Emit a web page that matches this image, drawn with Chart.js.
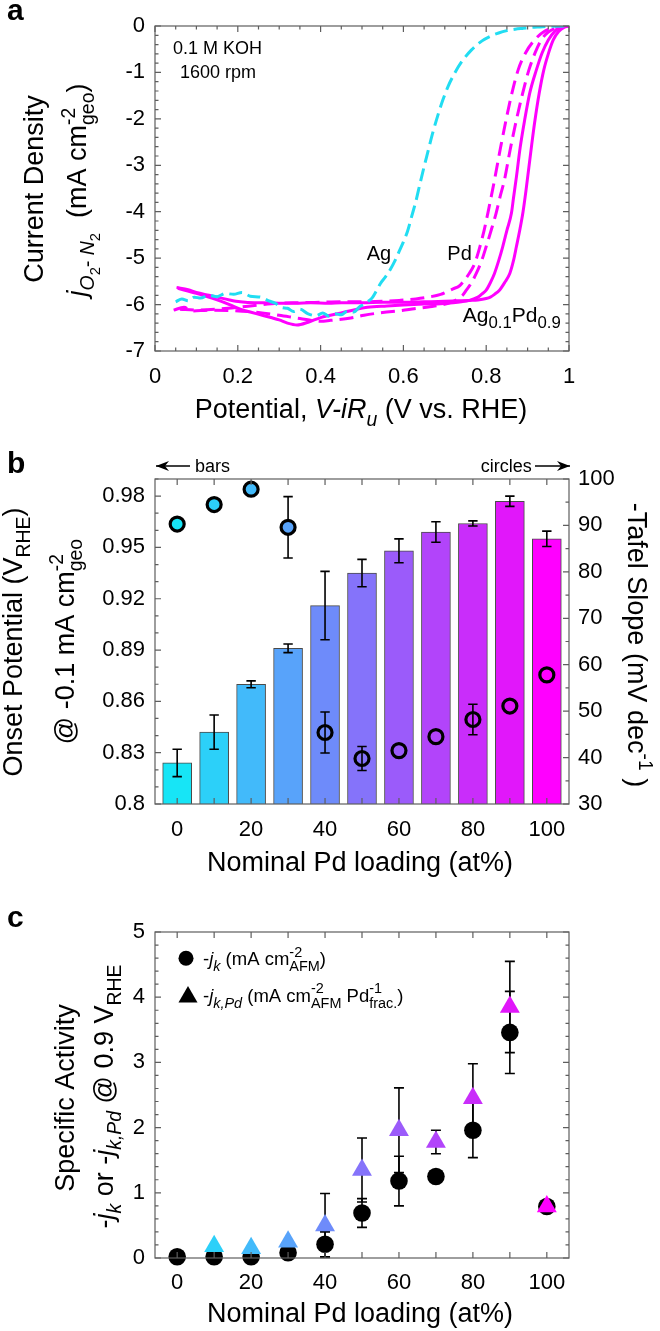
<!DOCTYPE html>
<html>
<head>
<meta charset="utf-8">
<script src="https://cdn.jsdelivr.net/npm/chart.js@4.4.1/dist/chart.umd.min.js"></script>
<style>
  html, body { margin: 0; padding: 0; background: #fff; }
  #wrap { position: relative; width: 660px; height: 1331px; }
  canvas { position: absolute; left: 0; }
</style>
</head>
<body>
<div id="wrap">
  <canvas id="cA" width="660" height="440" style="top:0"></canvas>
  <canvas id="cB" width="660" height="450" style="top:440px"></canvas>
  <canvas id="cC" width="660" height="441" style="top:890px"></canvas>
</div>
<script>
// ════════════════════════════════════════
// DATA
// ════════════════════════════════════════

// panel a: ORR polarisation curves (V vs RHE, mA cm-2)
const agV = [0.05,0.065,0.08,0.095,0.11,0.13,0.15,0.17,0.19,0.21,0.23,0.255,0.275,0.29,0.305,0.32,0.335,0.35,0.37,0.39,0.405,0.42,0.435,0.45,0.465,0.48,0.495,0.505,0.515,0.525,0.535,0.545,0.557,0.57,0.58,0.59,0.60,0.61,0.62,0.63,0.64,0.65,0.66,0.67,0.683,0.695,0.708,0.723,0.74,0.764,0.79,0.81,0.83,0.85,0.87,0.89,0.91,0.93,0.95,0.97,1.0];
const agJ = [-5.94,-5.88,-5.92,-5.84,-5.86,-5.80,-5.83,-5.76,-5.78,-5.74,-5.82,-5.84,-5.92,-5.97,-6.06,-6.08,-6.15,-6.10,-6.20,-6.24,-6.18,-6.25,-6.20,-6.22,-6.14,-6.16,-6.04,-6.00,-5.93,-5.85,-5.70,-5.54,-5.40,-5.22,-5.05,-4.85,-4.65,-4.42,-4.10,-3.78,-3.40,-3.03,-2.68,-2.33,-1.93,-1.60,-1.30,-1.03,-0.78,-0.52,-0.32,-0.22,-0.15,-0.10,-0.07,-0.05,-0.03,-0.02,-0.01,-0.005,0];

const pdV1 = [0.06,0.10,0.15,0.20,0.25,0.30,0.35,0.40,0.45,0.50,0.55,0.59,0.63,0.66,0.69,0.72,0.735,0.747,0.759,0.772,0.784,0.795,0.804,0.812,0.820,0.834,0.848,0.862,0.877,0.895,0.917,0.94,0.965,1.0];
const pdJ1 = [-6.10,-6.12,-6.10,-6.06,-6.01,-5.97,-5.96,-5.95,-5.94,-5.94,-5.93,-5.91,-5.88,-5.84,-5.78,-5.66,-5.60,-5.48,-5.33,-5.12,-4.78,-4.40,-4.03,-3.68,-3.32,-2.65,-2.02,-1.45,-0.95,-0.58,-0.30,-0.12,-0.04,0];

const pdV2 = [0.045,0.07,0.09,0.13,0.19,0.25,0.30,0.35,0.40,0.424,0.473,0.505,0.55,0.594,0.626,0.66,0.691,0.715,0.731,0.743,0.752,0.765,0.776,0.788,0.80,0.812,0.824,0.834,0.844,0.858,0.873,0.888,0.903,0.918,0.933,0.95,0.97,1.0];
const pdJ2 = [-6.12,-6.06,-6.14,-6.12,-6.13,-6.17,-6.23,-6.30,-6.36,-6.34,-6.29,-6.23,-6.17,-6.13,-6.09,-6.05,-6.01,-5.95,-5.88,-5.80,-5.69,-5.52,-5.33,-5.08,-4.75,-4.40,-4.03,-3.66,-3.32,-2.66,-2.02,-1.45,-0.95,-0.58,-0.30,-0.13,-0.04,0];

const alloyV1 = [0.055,0.10,0.15,0.18,0.206,0.23,0.255,0.28,0.30,0.32,0.343,0.37,0.40,0.45,0.513,0.56,0.60,0.65,0.69,0.72,0.74,0.759,0.78,0.79,0.80,0.81,0.82,0.83,0.84,0.85,0.861,0.866,0.873,0.882,0.893,0.905,0.921,0.935,0.95,0.965,0.98,1.0];
const alloyJ1 = [-5.65,-5.76,-5.90,-6.00,-6.10,-6.16,-6.22,-6.28,-6.33,-6.40,-6.44,-6.38,-6.28,-6.18,-6.06,-6.03,-6.01,-5.99,-5.98,-5.96,-5.94,-5.91,-5.84,-5.77,-5.69,-5.53,-5.33,-5.06,-4.75,-4.40,-4.03,-3.70,-3.25,-2.62,-2.02,-1.45,-0.95,-0.58,-0.30,-0.12,-0.03,0];

const alloyV2 = [0.052,0.08,0.10,0.13,0.15,0.18,0.206,0.24,0.26,0.30,0.34,0.376,0.42,0.45,0.50,0.55,0.60,0.65,0.70,0.73,0.76,0.78,0.80,0.81,0.82,0.832,0.845,0.857,0.866,0.873,0.881,0.889,0.896,0.903,0.910,0.917,0.928,0.939,0.950,0.962,0.975,0.988,1.0];
const alloyJ2 = [-5.63,-5.68,-5.74,-5.80,-5.84,-5.90,-5.94,-5.96,-5.96,-5.97,-5.97,-5.96,-5.97,-5.96,-5.96,-5.95,-5.95,-5.94,-5.93,-5.92,-5.91,-5.90,-5.87,-5.84,-5.78,-5.69,-5.52,-5.33,-5.05,-4.75,-4.40,-4.00,-3.55,-3.05,-2.55,-2.08,-1.45,-0.95,-0.60,-0.30,-0.12,-0.03,0];

// panel b: onset potential (bars, left) and Tafel slope (circles, right)
const loading = [0,10,20,30,40,50,60,70,80,90,100];
const onset = [0.824,0.842,0.870,0.891,0.916,0.935,0.948,0.959,0.964,0.977,0.955];
const onsetErr = [0.008,0.010,0.002,0.0025,0.020,0.008,0.007,0.006,0.0015,0.003,0.0045];
const tafel = [90.3,94.5,97.8,89.6,45.4,39.8,41.5,44.5,48.2,51.1,57.8];
const tafelErr = [0,0,0,6.6,4.4,2.6,0,0,3.3,0,0];

// panel c: specific activity
const jk = [0.02,0.02,0.02,0.08,0.21,0.69,1.18,1.25,1.96,3.46,0.79];
const jkErr = [0,0,0,0,0.19,0.22,0.38,0,0.42,0.63,0];
const pdLoading = [10,20,30,40,50,60,70,80,90,100];
const jkPd = [0.18,0.15,0.25,0.50,1.35,1.96,1.78,2.45,3.85,0.79];
const jkPdErr = [0,0,0,0.49,0.49,0.65,0.18,0.53,0.70,0];

// tick values
const potTicks = [0,0.2,0.4,0.6,0.8,1];
const jTicks = [-7,-6,-5,-4,-3,-2,-1,0];
const loadTicks = [0,10,20,30,40,50,60,70,80,90,100];
const onsetTicks = [0.8,0.83,0.86,0.89,0.92,0.95,0.98];
const tafelTicks = [30,40,50,60,70,80,90,100];
const actTicks = [0,1,2,3,4,5];

// ════════════════════════════════════════
// STYLE
// ════════════════════════════════════════

const FONT = "'Liberation Sans', Arial, Helvetica, sans-serif";
const PALETTE = ['#17E5F6','#2CD0F9','#42BAFA','#58A3FA','#6E8BFA','#8573FA','#9B5BFA','#B244FA','#C92DFA','#E117FA','#FF00FF'];
const MAG = '#FF00FF';
const CYAN = '#21DDF2';
const AXIS = '#5e5e5e';
const TICK_FONT = { family: FONT, size: 22 };
const TITLE = 27;

Chart.defaults.font.family = FONT;
Chart.defaults.color = '#000';

const SUB = { s: 0.72, dy: 0.3 };
const SUP = { s: 0.72, dy: -0.42 };
const SUBSUB = { s: 0.55, dy: 0.5 };
const LSUB = { s: 0.78, dy: 0.32 };
const LSUP = { s: 0.78, dy: -0.45 };

// ════════════════════════════════════════
// PLUGINS
// ════════════════════════════════════════

function drawRich(ctx, item) {
    const base = item.size;
    ctx.save();
    ctx.translate(item.x, item.y);
    if (item.rot) ctx.rotate(item.rot);
    ctx.fillStyle = '#000';
    ctx.textBaseline = 'alphabetic';
    ctx.textAlign = 'left';
    let cx = 0, prevStart = 0;
    const placed = item.runs.map(r => {
        const s = base * (r.s || 1);
        const font = `${r.i ? 'italic ' : ''}${item.bold ? 'bold ' : ''}${s}px ${FONT}`;
        ctx.font = font;
        const w = ctx.measureText(r.t).width;
        const x0 = r.back ? prevStart : cx;
        prevStart = x0;
        cx = r.back ? Math.max(cx, x0 + w) : x0 + w;
        return { font, t: r.t, x: x0, y: (r.dy || 0) * base };
    });
    const off = item.align === 'center' ? -cx / 2 : item.align === 'right' ? -cx : 0;
    placed.forEach(p => { ctx.font = p.font; ctx.fillText(p.t, p.x + off, p.y); });
    ctx.restore();
}

const textPlugin = {
    id: 'texts',
    afterDraw(chart, args, opts) {
        (opts.items || []).forEach(it => drawRich(chart.ctx, it));
        if (opts.extra) opts.extra(chart.ctx);
    }
};

// box + inward ticks on all four sides, MATLAB style
const framePlugin = {
    id: 'frame',
    afterDraw(chart, args, opts) {
        const { ctx, chartArea: a } = chart;
        const sx = chart.scales.x, sy = chart.scales.y, sy2 = chart.scales.y2;
        const MAJ = 6, MIN = 3.5;
        const minors = (scale, step) => {
            const out = [];
            if (!step) return out;
            for (let k = Math.ceil(scale.min / step - 1e-9); k * step <= scale.max + 1e-9; k++) out.push(k * step);
            return out;
        };
        ctx.save();
        ctx.strokeStyle = AXIS;
        ctx.lineWidth = 1.2;
        ctx.beginPath();
        const hx = (scale, vals, len) => vals.forEach(v => {
            const p = scale.getPixelForValue(v);
            ctx.moveTo(p, a.bottom); ctx.lineTo(p, a.bottom - len);
            ctx.moveTo(p, a.top); ctx.lineTo(p, a.top + len);
        });
        const vy = (scale, vals, len, left, right) => vals.forEach(v => {
            const p = scale.getPixelForValue(v);
            if (left) { ctx.moveTo(a.left, p); ctx.lineTo(a.left + len, p); }
            if (right) { ctx.moveTo(a.right, p); ctx.lineTo(a.right - len, p); }
        });
        hx(sx, sx.ticks.map(t => t.value), MAJ);
        hx(sx, minors(sx, opts.minorX), MIN);
        vy(sy, sy.ticks.map(t => t.value), MAJ, true, !sy2);
        vy(sy, minors(sy, opts.minorY), MIN, true, !sy2);
        if (sy2) {
            vy(sy2, sy2.ticks.map(t => t.value), MAJ, false, true);
            vy(sy2, minors(sy2, opts.minorY2), MIN, false, true);
        }
        ctx.stroke();
        ctx.strokeRect(a.left, a.top, a.right - a.left, a.bottom - a.top);
        ctx.restore();
    }
};

function drawErrors(chart, index, after) {
    const ds = chart.data.datasets[index];
    if (!ds.errorBars || !!ds.errAfter !== after) return;
    const meta = chart.getDatasetMeta(index);
    const ys = chart.scales[meta.yAxisID];
    const ctx = chart.ctx;
    const c = ds.capHalf || 5;
    ctx.save();
    ctx.strokeStyle = '#000';
    ctx.lineWidth = 1.6;
    ctx.beginPath();
    meta.data.forEach((el, k) => {
        const e = ds.errorBars[k];
        if (!e) return;
        const v = ds.data[k].y;
        const x = el.x, y1 = ys.getPixelForValue(v + e), y2 = ys.getPixelForValue(v - e);
        ctx.moveTo(x, y1); ctx.lineTo(x, y2);
        ctx.moveTo(x - c, y1); ctx.lineTo(x + c, y1);
        ctx.moveTo(x - c, y2); ctx.lineTo(x + c, y2);
    });
    ctx.stroke();
    ctx.restore();
}

const errorBarPlugin = {
    id: 'errbars',
    beforeDatasetDraw(chart, args) { drawErrors(chart, args.index, false); },
    afterDatasetDraw(chart, args) { drawErrors(chart, args.index, true); }
};

// shared axis pieces
function axis(min, max, values, fmt, fit) {
    return {
        type: 'linear', min, max, offset: false,
        afterBuildTicks: s => { s.ticks = values.map(v => ({ value: v })); },
        afterFit: fit,
        grid: { display: false, drawTicks: false },
        border: { display: false },
        ticks: { font: TICK_FONT, color: '#000', autoSkip: false, maxRotation: 0, padding: 10, callback: fmt },
    };
}

const pts = (xs, ys) => xs.map((x, i) => ({ x, y: ys[i] }));

function curve(xs, ys, color, dash) {
    return {
        data: pts(xs, ys),
        borderColor: color,
        borderWidth: 3,
        borderDash: dash,
        pointRadius: 0,
        cubicInterpolationMode: 'monotone',
        fill: false,
    };
}

const BASE_OPTS = {
    responsive: false,
    animation: false,
    events: [],
};

// ════════════════════════════════════════
// PANEL A
// ════════════════════════════════════════

const xA = axis(0, 1, potTicks, v => String(v), s => { s.height = 89; });
xA.ticks.padding = 12.5;
const yA = axis(-7, 0, jTicks, v => String(v), s => { s.width = 155; });

new Chart(document.getElementById('cA'), {
    type: 'line',
    data: {
        datasets: [
            curve(agV, agJ, CYAN, [13, 6]),
            curve(pdV1, pdJ1, MAG, [14, 7]),
            curve(pdV2, pdJ2, MAG, [14, 7]),
            curve(alloyV1, alloyJ1, MAG, []),
            curve(alloyV2, alloyJ2, MAG, []),
        ],
    },
    options: {
        ...BASE_OPTS,
        layout: { padding: { top: 26, right: 91, left: 0, bottom: 0 } },
        plugins: {
            legend: { display: false },
            tooltip: { enabled: false },
            frame: { minorX: 0.05, minorY: 0.2 },
            texts: {
                items: [
                    { x: 7, y: 20, size: 30, bold: 1, runs: [{ t: 'a' }] },
                    { x: 42.5, y: 189, rot: -Math.PI / 2, align: 'center', size: TITLE, runs: [{ t: 'Current Density' }] },
                    { x: 86, y: 190, rot: -Math.PI / 2, align: 'center', size: TITLE, runs: [
                        { t: 'j', i: 1 }, { t: 'O', i: 1, ...SUB }, { t: '2', ...SUBSUB }, { t: '- ', ...SUB },
                        { t: 'N', i: 1, ...SUB }, { t: '2', ...SUBSUB }, { t: '  (mA cm' }, { t: '-2', ...SUP },
                        { t: 'geo', ...SUB, back: 1 }, { t: ')' }] },
                    { x: 361, y: 418, align: 'center', size: TITLE, runs: [
                        { t: 'Potential, ' }, { t: 'V-iR', i: 1 }, { t: 'u', i: 1, ...SUB }, { t: ' (V vs. RHE)' }] },
                    { x: 173, y: 54, size: 18, runs: [{ t: '0.1 M KOH' }] },
                    { x: 180, y: 78, size: 18, runs: [{ t: '1600 rpm' }] },
                    { x: 366.7, y: 260, size: 20, runs: [{ t: 'Ag' }] },
                    { x: 447.3, y: 260, size: 20, runs: [{ t: 'Pd' }] },
                    { x: 462.7, y: 321.7, size: 21, runs: [
                        { t: 'Ag' }, { t: '0.1', s: 0.8, dy: 0.3 }, { t: 'Pd' }, { t: '0.9', s: 0.8, dy: 0.3 }] },
                ],
            },
        },
        scales: { x: xA, y: yA },
    },
    plugins: [framePlugin, textPlugin],
});

// ════════════════════════════════════════
// PANEL B
// ════════════════════════════════════════

const loadFmt = v => (v % 20 === 0 ? String(v) : '');
const xB = axis(-6, 106, loadTicks, loadFmt, s => { s.height = 86; });
xB.ticks.padding = 12.5;
const yB = axis(0.8, 0.99, onsetTicks, v => String(v), s => { s.width = 155; });
const y2B = axis(30, 100, tafelTicks, v => String(v), s => { s.width = 91; });
y2B.position = 'right';
y2B.ticks.padding = 9;

function arrow(ctx, x1, x2, y, head) {
    ctx.save();
    ctx.strokeStyle = '#000';
    ctx.fillStyle = '#000';
    ctx.lineWidth = 1.3;
    ctx.beginPath(); ctx.moveTo(x1, y); ctx.lineTo(x2, y); ctx.stroke();
    const d = head > x1 ? -1 : 1;
    ctx.beginPath();
    ctx.moveTo(head, y);
    ctx.lineTo(head + d * 13, y - 5);
    ctx.lineTo(head + d * 9, y);
    ctx.lineTo(head + d * 13, y + 5);
    ctx.closePath();
    ctx.fill();
    ctx.restore();
}

new Chart(document.getElementById('cB'), {
    type: 'bar',
    data: {
        datasets: [
            {
                type: 'bar',
                data: pts(loading, onset),
                yAxisID: 'y',
                backgroundColor: PALETTE,
                borderColor: '#4a4a4a',
                borderWidth: 1,
                borderSkipped: false,
                barThickness: 29,
                errorBars: onsetErr,
                errAfter: true,
                capHalf: 4.7,
                order: 2,
            },
            {
                type: 'scatter',
                data: pts(loading, tafel),
                yAxisID: 'y2',
                pointRadius: 7,
                pointBorderWidth: 3.2,
                pointBorderColor: '#000',
                pointBackgroundColor: PALETTE.map((c, i) => (i < 4 ? c : 'rgba(0,0,0,0)')),
                errorBars: tafelErr,
                capHalf: 4.7,
                clip: false,
                order: 1,
            },
        ],
    },
    options: {
        ...BASE_OPTS,
        layout: { padding: { top: 39, right: 0, left: 0, bottom: 0 } },
        plugins: {
            legend: { display: false },
            tooltip: { enabled: false },
            frame: { minorY: 0.01, minorY2: 5 },
            texts: {
                items: [
                    { x: 7, y: 33, size: 30, bold: 1, runs: [{ t: 'b' }] },
                    { x: 21.5, y: 202, rot: -Math.PI / 2, align: 'center', size: TITLE, runs: [
                        { t: 'Onset Potential (V' }, { t: 'RHE', ...SUB }, { t: ')' }] },
                    { x: 74, y: 201.5, rot: -Math.PI / 2, align: 'center', size: TITLE, runs: [
                        { t: '@ -0.1 mA cm' }, { t: '-2', ...SUP }, { t: 'geo', ...SUB, back: 1 }] },
                    { x: 628, y: 205, rot: Math.PI / 2, align: 'center', size: TITLE, runs: [
                        { t: '-Tafel Slope (mV dec' }, { t: '-1', ...SUP }, { t: ' )' }] },
                    { x: 360, y: 430.7, align: 'center', size: TITLE, runs: [{ t: 'Nominal Pd loading (at%)' }] },
                    { x: 195, y: 32, size: 18, runs: [{ t: 'bars' }] },
                    { x: 531.7, y: 32, align: 'right', size: 18, runs: [{ t: 'circles' }] },
                ],
                extra: ctx => {
                    arrow(ctx, 156, 190, 26, 156);
                    arrow(ctx, 535, 570, 26, 570);
                },
            },
        },
        scales: { x: xB, y: yB, y2: y2B },
    },
    plugins: [errorBarPlugin, framePlugin, textPlugin],
});

// ════════════════════════════════════════
// PANEL C
// ════════════════════════════════════════

const xC = axis(-6, 106, loadTicks, loadFmt, s => { s.height = 73; });
xC.ticks.padding = 12;
const yC = axis(0, 5, actTicks, v => String(v), s => { s.width = 155; });

new Chart(document.getElementById('cC'), {
    type: 'scatter',
    data: {
        datasets: [
            {
                data: pts(loading, jk),
                pointRadius: 8.8,
                pointBorderWidth: 0,
                pointBackgroundColor: '#000',
                errorBars: jkErr,
                capHalf: 5,
                clip: false,
                order: 2,
            },
            {
                data: pts(pdLoading, jkPd),
                pointStyle: 'triangle',
                pointRadius: 11.5,
                pointBorderWidth: 0,
                pointBackgroundColor: PALETTE.slice(1),
                errorBars: jkPdErr,
                capHalf: 5,
                clip: false,
                order: 1,
            },
        ],
    },
    options: {
        ...BASE_OPTS,
        layout: { padding: { top: 42, right: 91, left: 0, bottom: 0 } },
        plugins: {
            legend: { display: false },
            tooltip: { enabled: false },
            frame: { minorY: 0.2 },
            texts: {
                items: [
                    { x: 7, y: 37, size: 30, bold: 1, runs: [{ t: 'c' }] },
                    { x: 74, y: 208, rot: -Math.PI / 2, align: 'center', size: TITLE, runs: [{ t: 'Specific Activity' }] },
                    { x: 113, y: 206.5, rot: -Math.PI / 2, align: 'center', size: TITLE, runs: [
                        { t: '-' }, { t: 'j', i: 1 }, { t: 'k', i: 1, ...SUB }, { t: ' or -' }, { t: 'j', i: 1 },
                        { t: 'k,Pd', i: 1, ...SUB }, { t: ' @ 0.9 V' }, { t: 'RHE', ...SUB }] },
                    { x: 360, y: 431.7, align: 'center', size: TITLE, runs: [{ t: 'Nominal Pd loading (at%)' }] },
                    { x: 203, y: 75, size: 18.5, runs: [
                        { t: '-' }, { t: 'j', i: 1 }, { t: 'k', i: 1, ...LSUB }, { t: ' (mA cm' }, { t: '-2', ...LSUP },
                        { t: 'AFM', ...LSUB, back: 1 }, { t: ')' }] },
                    { x: 203, y: 111.7, size: 18.5, runs: [
                        { t: '-' }, { t: 'j', i: 1 }, { t: 'k,Pd', i: 1, ...LSUB }, { t: ' (mA cm' }, { t: '-2', ...LSUP },
                        { t: 'AFM', ...LSUB, back: 1 }, { t: ' Pd' }, { t: '-1', ...LSUP }, { t: 'frac.', ...LSUB, back: 1 }, { t: ')' }] },
                ],
                extra: ctx => {
                    ctx.save();
                    ctx.fillStyle = '#000';
                    ctx.beginPath(); ctx.arc(186, 68.3, 7.5, 0, Math.PI * 2); ctx.fill();
                    const r = 11, cy = 107;
                    ctx.beginPath();
                    ctx.moveTo(188, cy - r);
                    ctx.lineTo(188 + r * 0.866, cy + r / 2);
                    ctx.lineTo(188 - r * 0.866, cy + r / 2);
                    ctx.closePath(); ctx.fill();
                    ctx.restore();
                },
            },
        },
        scales: { x: xC, y: yC },
    },
    plugins: [errorBarPlugin, framePlugin, textPlugin],
});
</script>
</body>
</html>
